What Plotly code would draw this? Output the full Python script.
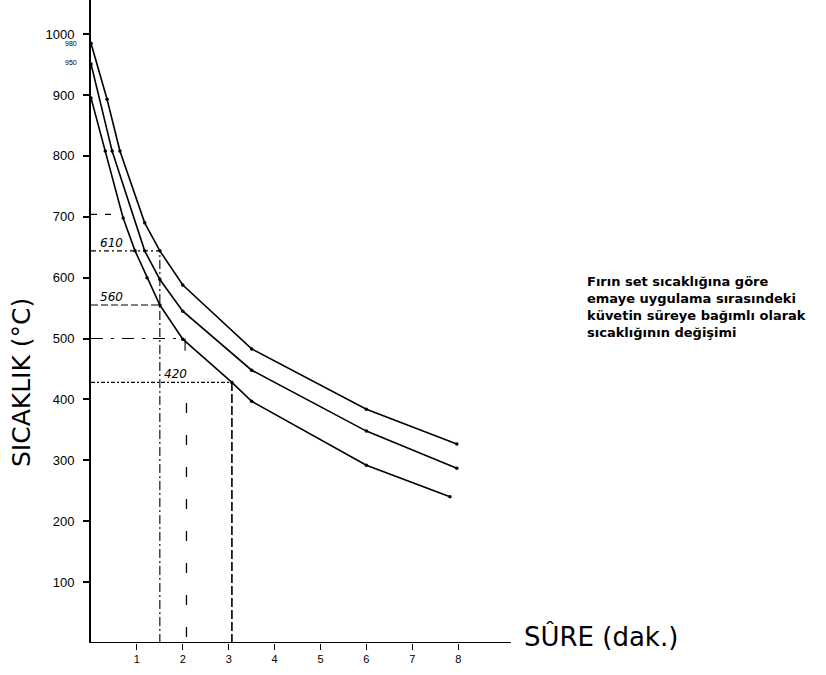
import plotly.graph_objects as go

# ---- data ----
time_top = [0, 0.35, 0.63, 1.17, 1.5, 2.0, 3.5, 6.0, 7.97]
temp_top = [985, 893, 808, 690, 644, 588, 483, 384, 327]

time_mid = [0, 0.46, 1.17, 1.5, 2.0, 3.5, 6.0, 7.97]
temp_mid = [951, 808, 644, 597, 545, 448, 348, 287]

time_bot = [0, 0.31, 0.7, 0.96, 1.22, 1.5, 2.0, 3.07, 3.5, 6.0, 7.82]
temp_bot = [895, 808, 698, 644, 600, 555, 499, 428, 397, 292, 240]

# guide lines: horizontal levels and where they stop
guide_levels = [704, 644, 555, 500, 428]
guide_ends = [0.55, 1.55, 1.5, 2.0, 3.07]
guide_labels = ["", "610", "560", "", "420"]
guide_label_x = [0, 0.15, 0.15, 0, 1.55]

# vertical guides: x position, top value, bottom value
vguide_x = [1.5, 3.07, 2.08]
vguide_top = [644, 428, 400]
vguide_bot = [0, 0, 10]

y_tick_vals = [100, 200, 300, 400, 500, 600, 700, 800, 900, 1000]
y_tick_text = ["100", "200", "300", "400", "500", "600", "700", "800", "900", "1000"]
x_tick_vals = [1, 2, 3, 4, 5, 6, 7, 8]
start_labels = ["980", "950"]
start_values = [985, 953]

x_axis_end = 9.15

fig = go.Figure()

line_style = dict(color="black", width=1.6)
for tx, ty in [(time_top, temp_top), (time_mid, temp_mid), (time_bot, temp_bot)]:
    fig.add_trace(go.Scatter(x=tx, y=ty, mode="lines+markers", line=line_style,
                             marker=dict(size=3.5, color="black"), showlegend=False,
                             hoverinfo="skip"))

dash_styles = ["6px,8px", "5px,3px,2px,3px", "7px,3px", "12px,8px,3px,8px", "4px,2px,2px,2px"]
for lvl, end, ds in zip(guide_levels, guide_ends, dash_styles):
    fig.add_trace(go.Scatter(x=[0, end], y=[lvl, lvl], mode="lines",
                             line=dict(color="black", width=1.1, dash=ds),
                             showlegend=False, hoverinfo="skip"))

v_styles = ["9px,3px,2px,3px", "9px,3px", "10px,22px"]
v_widths = [1.1, 1.6, 1.3]
for vx, vt, vb, ds, w in zip(vguide_x, vguide_top, vguide_bot, v_styles, v_widths):
    fig.add_trace(go.Scatter(x=[vx, vx], y=[vb, vt], mode="lines",
                             line=dict(color="black", width=w, dash=ds),
                             showlegend=False, hoverinfo="skip"))

# small tick near 2 min at 500
fig.add_trace(go.Scatter(x=[2.05, 2.05], y=[480, 500], mode="lines",
                         line=dict(color="black", width=1.1), showlegend=False, hoverinfo="skip"))

# x axis line
fig.add_trace(go.Scatter(x=[0, x_axis_end], y=[0, 0], mode="lines",
                         line=dict(color="black", width=2), showlegend=False, hoverinfo="skip"))

annotations = []
for lab, lvl, lx in zip(guide_labels, guide_levels, guide_label_x):
    if lab:
        annotations.append(dict(x=lx, y=lvl, xref="x", yref="y", text="<i>" + lab + "</i>",
                                showarrow=False, xanchor="left", yanchor="bottom", yshift=-1,
                                font=dict(family="DejaVu Sans", size=12, color="black")))
for lab, val in zip(start_labels, start_values):
    annotations.append(dict(x=0, y=val, xref="x", yref="y", text=lab, showarrow=False,
                            xanchor="right", yanchor="middle", xshift=-12,
                            font=dict(family="Liberation Sans", size=7, color="black")))

annotations.append(dict(x=-70 / 735, y=1 - 383 / 643, xref="paper", yref="paper",
                        text="SICAKLIK (°C)", textangle=-90, showarrow=False,
                        xanchor="center", yanchor="middle",
                        font=dict(family="DejaVu Sans", size=25, color="black")))
annotations.append(dict(x=9.39, y=11.5, xref="x", yref="y", text="SÛRE (dak.)",
                        showarrow=False, xanchor="left", yanchor="middle",
                        font=dict(family="DejaVu Sans", size=26, color="black")))
annotations.append(dict(x=10.76, y=(643 - 307) / 0.6089, xref="x", yref="y",
                        text="Fırın set sıcaklığına göre<br>emaye uygulama sırasındeki<br>"
                             "küvetin süreye bağımlı olarak<br>sıcaklığının değişimi",
                        showarrow=False, xanchor="left", yanchor="middle", align="left",
                        font=dict(family="DejaVu Sans", size=13, color="black", weight="bold")))

fig.update_layout(
    width=826, height=675,
    margin=dict(l=91, r=0, t=0, b=32, autoexpand=False),
    plot_bgcolor="white", paper_bgcolor="white",
    showlegend=False,
    annotations=annotations,
    xaxis=dict(range=[0, 735 / 45.9], tickvals=x_tick_vals, ticks="outside", ticklen=6,
               tickwidth=1, tickcolor="black", showline=False, showgrid=False, zeroline=False,
               automargin=False,
               tickfont=dict(family="Liberation Sans", size=11, color="black")),
    yaxis=dict(range=[0, 643 / 0.6089], tickvals=y_tick_vals, ticktext=y_tick_text,
               ticks="outside", ticklen=6, tickwidth=1.5, tickcolor="black",
               showline=True, linewidth=2, linecolor="black", showgrid=False, zeroline=False,
               automargin=False, ticklabelstandoff=6,
               tickfont=dict(family="Liberation Sans", size=13, color="black")),
)

fig.write_html("out.html", config={"displayModeBar": False},
               post_script="document.body.style.margin='0px';")
